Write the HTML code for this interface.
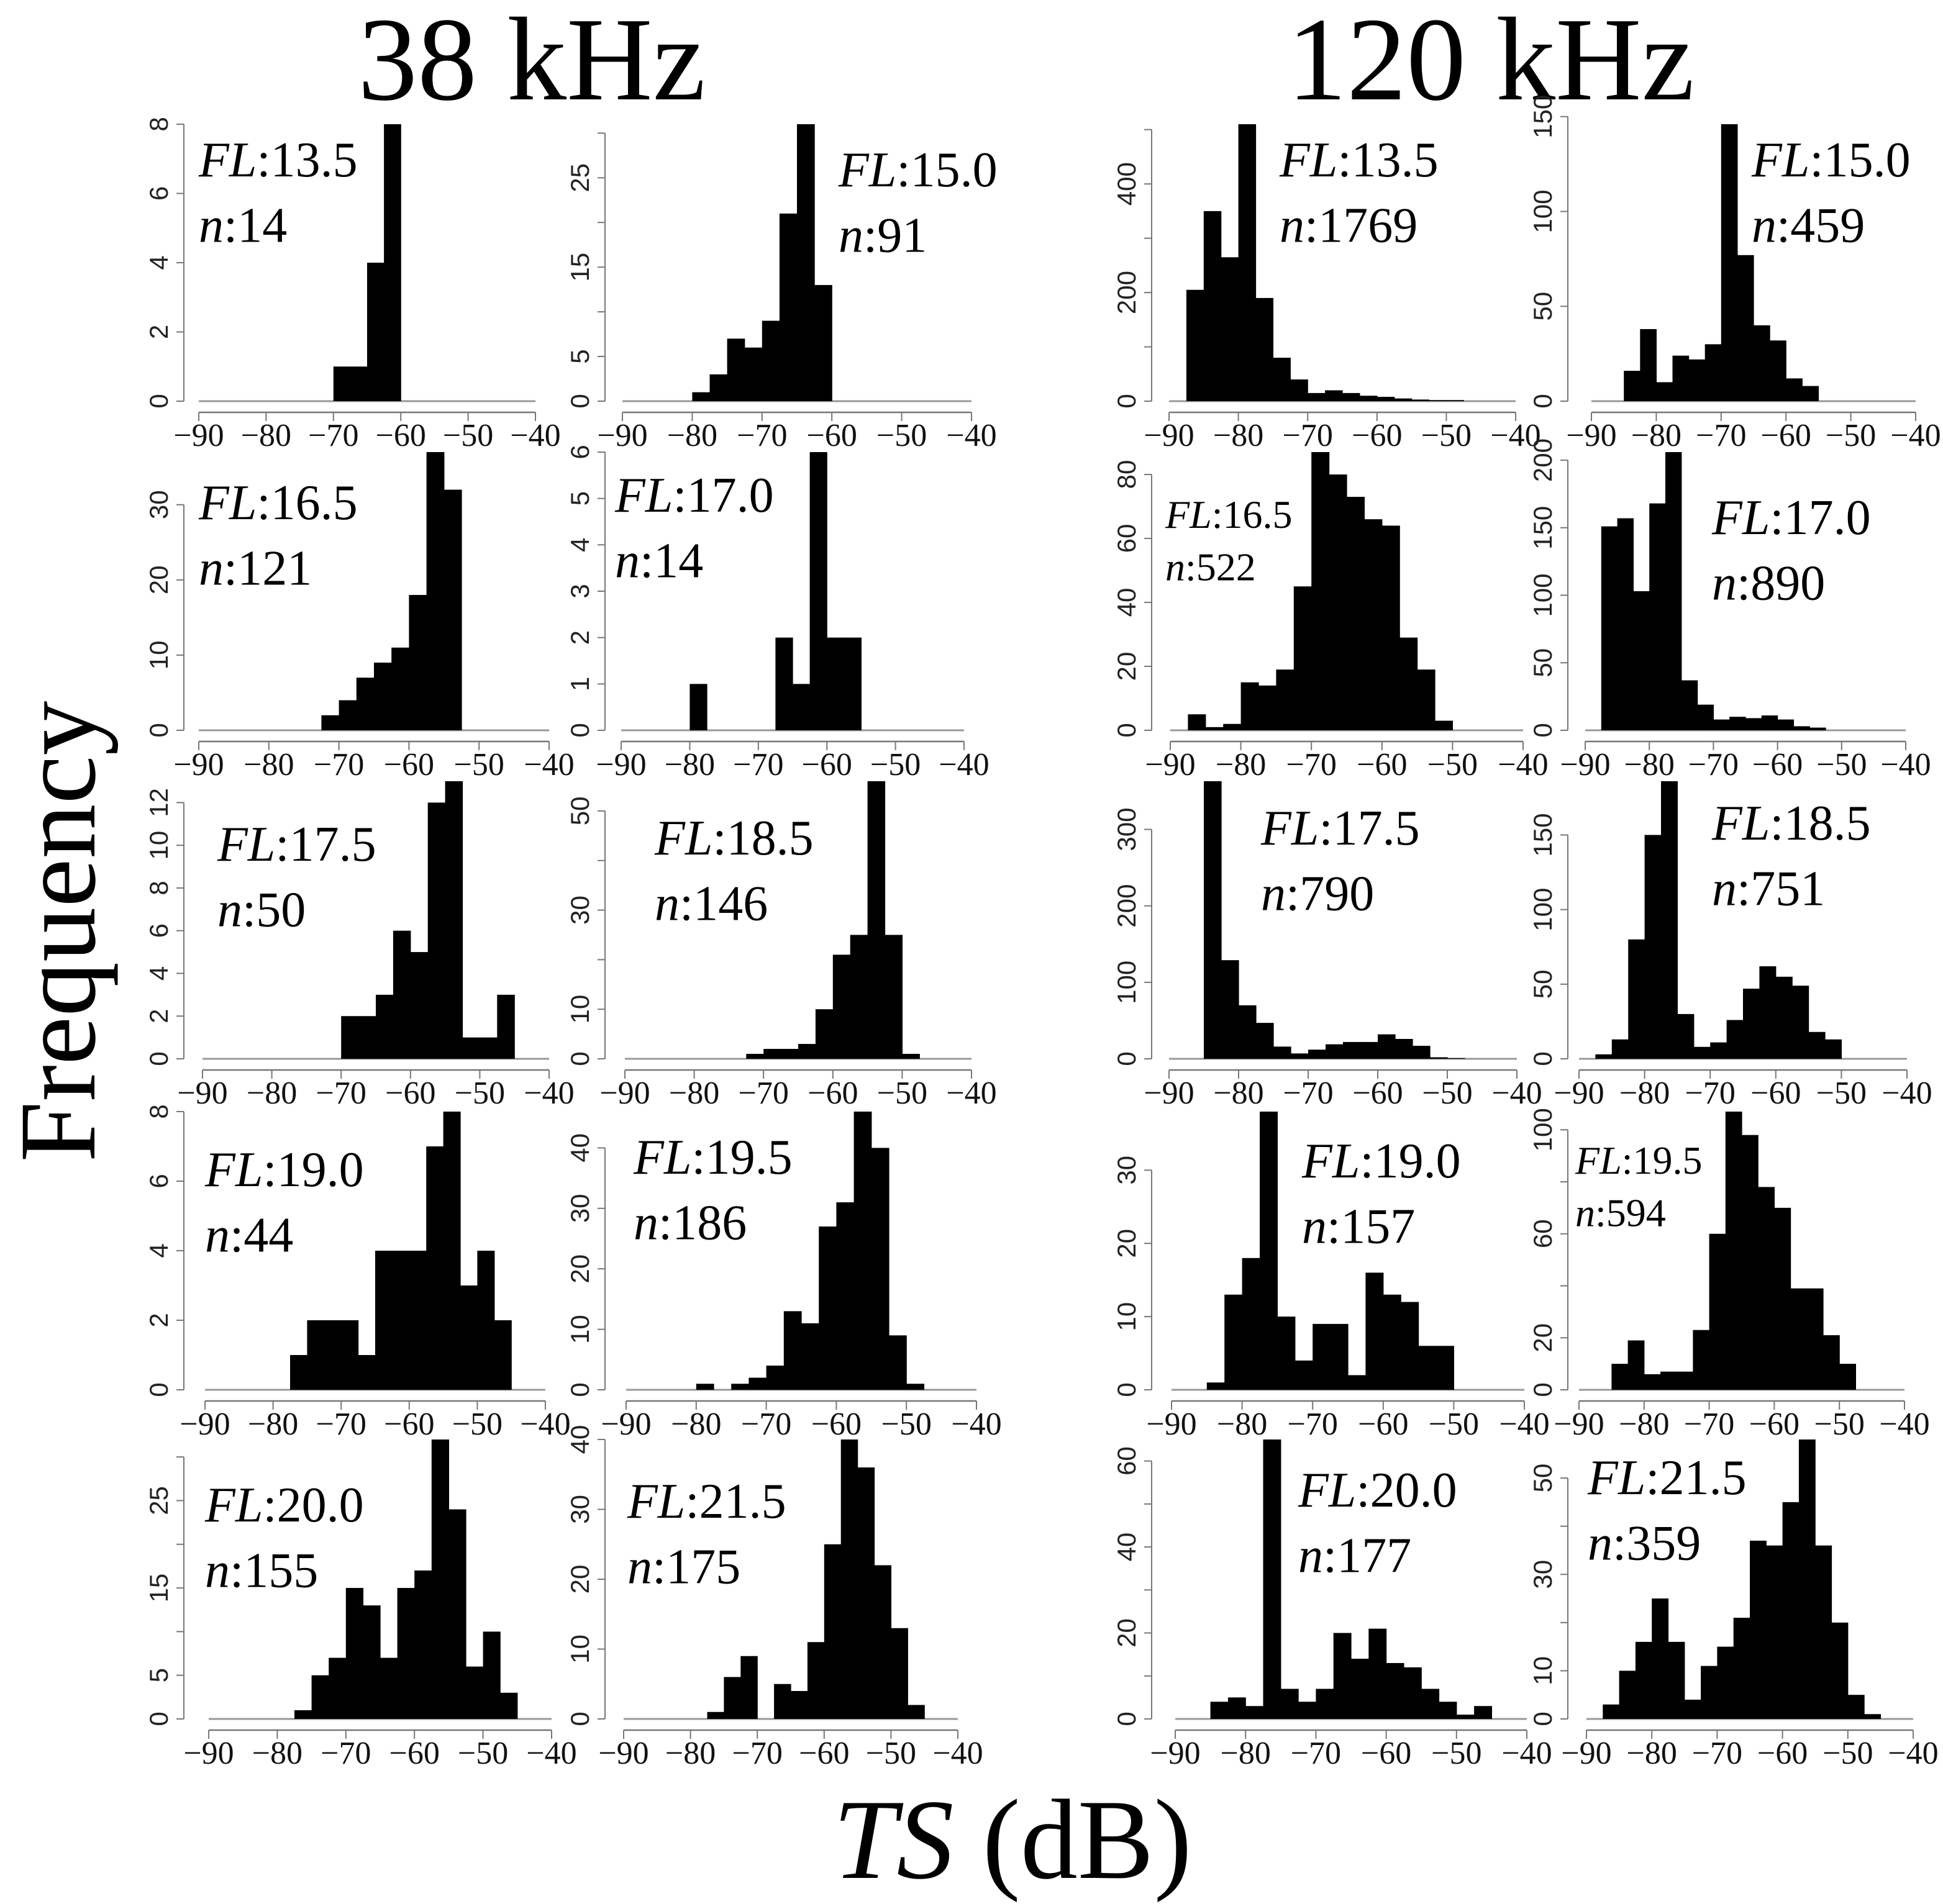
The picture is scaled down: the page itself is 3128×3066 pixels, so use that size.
<!DOCTYPE html>
<html><head><meta charset="utf-8"><style>
html,body{margin:0;padding:0;background:#fff}
svg{display:block}
text{font-family:"Liberation Serif",serif;fill:#000}
.tkx{font-family:"Liberation Serif",serif;font-size:26px;fill:#111}
.tky{font-family:"Liberation Sans",sans-serif;font-size:21px;fill:#222}
</style></head><body>
<svg id="chart" width="3128" height="3066" viewBox="0 0 1564 1533" xmlns="http://www.w3.org/2000/svg">
<text x="428" y="80" font-size="96" text-anchor="middle">38 kHz</text>
<text x="1200" y="80" font-size="96" text-anchor="middle">120 kHz</text>
<text transform="translate(76,750) rotate(-90)" font-size="88" text-anchor="middle">Frequency</text>
<text x="815" y="1512" font-size="92" text-anchor="middle"><tspan font-style="italic">TS</tspan> (dB)</text>
<g id="panels"></g>
</svg>
<script>
// bin width 2.5 dB; counts
const c1=[1,1,4,8];
const c2=[1,3,7,6,9,21,31,13];
const c3=[205,350,265,510,190,80,40,15,20,15,10,8,5,3,2,2];
const c4=[16,38,10,24,22,30,146,77,40,32,12,8];
const c5=[2,4,7,9,11,18,37,32];
const c6=[1,0,0,0,0,2,1,6,2,2];
const c7=[5,1,2,15,14,19,45,87,80,73,66,64,29,19,3];
const c8=[151,157,103,168,206,37,19,8,10,9,11,8,3,2];
const c9=[2,2,3,6,5,12,13,1,1,3];
const c10=[1,2,2,3,10,21,25,56,25,1];
const c11=[363,129,70,47,16,7,12,19,22,22,32,26,17,2,1];
const c12=[3,13,80,150,186,30,8,11,26,47,62,55,49,18,13];
const c13=[1,2,2,2,1,4,4,4,7,8,3,4,2];
const c14=[1,0,1,2,4,13,11,27,31,46,40,9,1];
const c15=[1,13,18,38,10,4,9,9,2,16,13,12,6,6];
const c16=[10,19,6,7,7,23,60,107,98,78,70,39,39,21,10];
const c17=[1,5,7,15,13,7,15,17,32,24,6,10,3];
const c18=[1,6,9,0,5,4,11,25,40,36,22,13,2];
const c19=[4,5,3,65,7,4,7,20,14,21,13,12,7,4,1,3];
const c20=[3,10,16,25,16,4,11,15,21,37,36,45,58,36,20,5,1];
const starts=[-70,-80,-87.5,-85,-72.5,-80,-87.5,-87.5,-70,-72.5,-85,-87.5,-77.5,-80,-85,-85,-77.5,-77.5,-85,-87.5];
const flLabels=["13.5","15.0","13.5","15.0","16.5","17.0","16.5","17.0","17.5","18.5","17.5","18.5","19.0","19.5","19.0","19.5","20.0","21.5","20.0","21.5"];
const nLabels=["14","91","1769","459","121","14","522","890","50","146","790","751","44","186","157","594","155","175","177","359"];
const yTicks=[[0,2,4,6,8],[0,5,10,15,20,25,30],[0,100,200,300,400,500],[0,50,100,150],[0,10,20,30],[0,1,2,3,4,5,6],[0,20,40,60,80],[0,50,100,150,200],[0,2,4,6,8,10,12],[0,10,20,30,40,50],[0,100,200,300],[0,50,100,150],[0,2,4,6,8],[0,10,20,30,40],[0,10,20,30],[0,20,40,60,80,100],[0,5,10,15,20,25,30],[0,10,20,30,40],[0,10,20,30,40,50,60],[0,10,20,30,40,50]];
const yLabels=[[0,2,4,6,8],[0,5,15,25],[0,200,400],[0,50,100,150],[0,10,20,30],[0,1,2,3,4,5,6],[0,20,40,60,80],[0,50,100,150,200],[0,2,4,6,8,10,12],[0,10,30,50],[0,100,200,300],[0,50,100,150],[0,2,4,6,8],[0,10,20,30,40],[0,10,20,30],[0,20,60,100],[0,5,15,25],[0,10,20,30,40],[0,20,40,60],[0,10,30,50]];
const xTicks=[-90,-80,-70,-60,-50,-40];
const allCounts=[c1,c2,c3,c4,c5,c6,c7,c8,c9,c10,c11,c12,c13,c14,c15,c16,c17,c18,c19,c20];

const NS="http://www.w3.org/2000/svg";
const axX=[[160,431],[501,782],[941,1220],[1281,1542],
           [160,442],[500,776],[942,1226],[1276,1534],
           [163,442],[503,782],[941,1221],[1271,1535],
           [165,439],[504,786],[943,1227],[1271,1533],
           [168,444],[502,771],[946,1229],[1277,1540]];
const colYAx=[148,487,927,1262];
const rowBot=[323,588,852.5,1119,1384];
const rowTop=[100,364,629,895,1159];
const annPos=[[160,142,40],[675,150,40],[1030,142,40],[1410,142,40],[160,418,40],[495,412,40],[938,425,32],[1378,430,40],[175,693,40],[527,688,40],[1015,680,40],[1378,676,40],[165,955,40],[510,945,40],[1048,948,40],[1268,945,32],[165,1225,40],[505,1222,40],[1045,1213,40],[1278,1203,40]];
const g=document.getElementById('panels');
function mk(tag,attrs,parent){const e=document.createElementNS(NS,tag);for(const k in attrs)e.setAttribute(k,attrs[k]);parent.appendChild(e);return e;}
for(let p=0;p<20;p++){
  const col=p%4,row=Math.floor(p/4);
  const counts=allCounts[p];
  const maxC=Math.max(...counts);
  const bot=rowBot[row],top=rowTop[row];
  const X0=axX[p][0],X1=axX[p][1];
  const x=v=>X0+(v+90)/50*(X1-X0);
  const y=v=>bot-v/maxC*(bot-top);
  const pg=mk('g',{},g);
  
  
  mk('line',{x1:x(-90),x2:x(-40),y1:bot,y2:bot,stroke:'#999','stroke-width':1.5},pg);
  counts.forEach((c,i)=>{
    if(c<=0)return;
    const x0=x(starts[p]+i*2.5),x1=x(starts[p]+(i+1)*2.5);
    const r=mk('rect',{x:x0,y:y(c),width:x1-x0+0.3,height:bot-y(c),fill:'#000'},pg);
    
    
  });
  // x axis
  const ay=bot+9;
  const xa=mk('g',{},pg);
  
  
  mk('line',{x1:x(-90),x2:x(-40),y1:ay,y2:ay,stroke:'#777','stroke-width':1.2},xa);
  xTicks.forEach(t=>{
    mk('line',{x1:x(t),x2:x(t),y1:ay,y2:ay+7,stroke:'#777','stroke-width':1},xa);
    const tx=mk('text',{x:x(t),y:ay+27,'text-anchor':'middle',class:'tkx'},xa);
    tx.textContent='\u2212'+Math.abs(t);
  });
  // y axis
  const ya=mk('g',{},pg);
  
  
  const yt=yTicks[p];
  const ax=colYAx[col];
  mk('line',{x1:ax,x2:ax,y1:y(0),y2:y(yt[yt.length-1]),stroke:'#777','stroke-width':1},ya);
  yt.forEach(t=>{
    mk('line',{x1:ax-6,x2:ax,y1:y(t),y2:y(t),stroke:'#777','stroke-width':1},ya);
  });
  yLabels[p].forEach(t=>{
    const tx=mk('text',{transform:`translate(${ax-13},${y(t)}) rotate(-90)`,'text-anchor':'middle',class:'tky'},ya);
    tx.textContent=t;
  });
  // annotation
  const a=annPos[p];
  const t1=mk('text',{x:a[0],y:a[1],'font-size':a[2]},pg);
  
  
  t1.innerHTML='<tspan font-style="italic">FL</tspan>:'+flLabels[p];
  const t2=mk('text',{x:a[0],y:a[1]+a[2]*1.32,'font-size':a[2]},pg);
  
  
  t2.innerHTML='<tspan font-style="italic">n</tspan>:'+nLabels[p];
}
</script>
</body></html>
